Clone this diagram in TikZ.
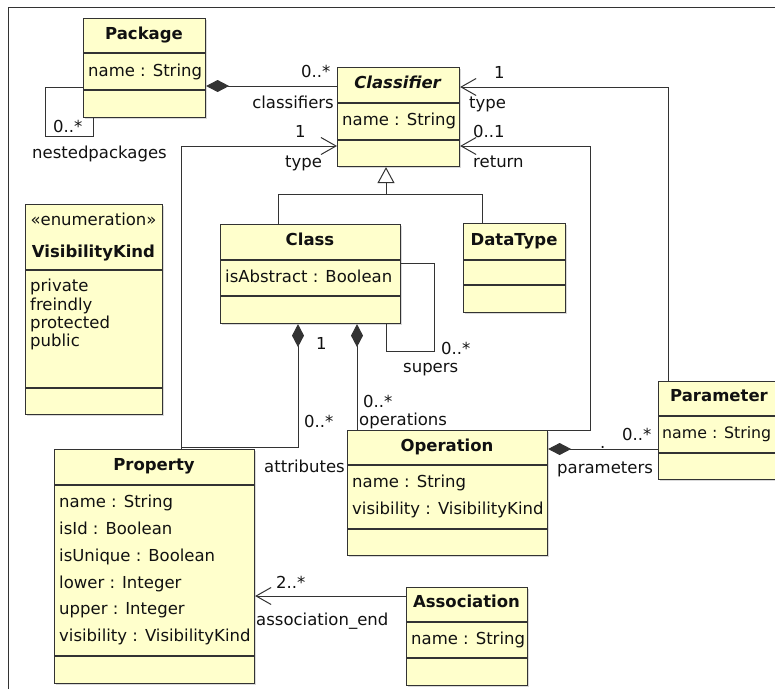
\documentclass[tikz,border=0pt]{standalone}
\usepackage{fontspec}
\setmainfont{DejaVu Sans}
\usetikzlibrary{arrows.meta,shadows}
\definecolor{boxfill}{HTML}{FFFFCC}
\definecolor{linec}{HTML}{333333}
\definecolor{txtc}{HTML}{111111}
\begin{document}
\begin{tikzpicture}[x=1pt,y=-1pt,
  umlbox/.style={draw=linec, fill=boxfill, line width=1.1pt, inner sep=0pt, anchor=north west,
     drop shadow={shadow xshift=1.5pt,shadow yshift=-1.5pt,opacity=0.3,fill=gray}},
  sep/.style={draw=linec, line width=1.1pt},
  ttl/.style={font=\fontsize{16.5}{20}\selectfont\bfseries, text=txtc, anchor=base, inner sep=0pt},
  attr/.style={font=\fontsize{16.5}{20}\selectfont, text=txtc, anchor=base west, inner sep=0pt},
  lbl/.style={attr},
  conn/.style={draw=linec, line width=1pt},
  comp/.style={conn, {Diamond[length=23pt,width=12pt]}-},
  nav/.style={conn, -{Straight Barb[length=15pt,width=17pt]}},
  gen/.style={conn, -{Triangle[open,length=16pt,width=17pt,fill=white]}},
]
\clip (0,0) rectangle (775,689);
\draw[linec, line width=1pt] (8,689) -- (8,7) -- (775,7);

% ---------- boxes ----------
\node[umlbox, minimum width=122pt, minimum height=99pt] (pkg) at (83,18) {};
\draw[sep] (pkg.west |- 0,53) -- (pkg.east |- 0,53);
\draw[sep] (pkg.west |- 0,90) -- (pkg.east |- 0,90);
\node[ttl] (pkgT) at (144,39) {Package};
\node[attr] (pkgA) at (88,76.5) {name : String};

\node[umlbox, minimum width=122pt, minimum height=99pt] (cfr) at (337,67) {};
\draw[sep] (cfr.west |- 0,103) -- (cfr.east |- 0,103);
\draw[sep] (cfr.west |- 0,140) -- (cfr.east |- 0,140);
\node[ttl] (cfrT) at (398,88.5) {\textit{Classifier}};
\node[attr] (cfrA) at (342,125) {name : String};

\node[umlbox, minimum width=180pt, minimum height=99pt] (cls) at (220,224) {};
\draw[sep] (cls.west |- 0,260) -- (cls.east |- 0,260);
\draw[sep] (cls.west |- 0,296) -- (cls.east |- 0,296);
\node[ttl] (clsT) at (310,245) {Class};
\node[attr] (clsA) at (225,282) {isAbstract : Boolean};

\node[umlbox, minimum width=102pt, minimum height=89pt] (dt) at (463,223) {};
\draw[sep] (dt.west |- 0,260) -- (dt.east |- 0,260);
\draw[sep] (dt.west |- 0,285) -- (dt.east |- 0,285);
\node[ttl] (dtT) at (514,245) {DataType};

\node[umlbox, minimum width=137pt, minimum height=210pt] (vk) at (25,204) {};
\draw[sep] (vk.west |- 0,270) -- (vk.east |- 0,270);
\draw[sep] (vk.west |- 0,388) -- (vk.east |- 0,388);
\node[anchor=base, inner sep=0pt, text=txtc, font=\fontsize{16.5}{20}\selectfont] (vkS) at (93.5,225) {«enumeration»};
\node[ttl] (vkT) at (93.5,257) {VisibilityKind};
\node[attr] (vk1) at (30,291.5) {private};
\node[attr] (vk2) at (30,310) {freindly};
\node[attr] (vk3) at (30,328) {protected};
\node[attr] (vk4) at (30,346.5) {public};

\node[umlbox, minimum width=200pt, minimum height=234pt] (prop) at (54,449) {};
\draw[sep] (prop.west |- 0,485) -- (prop.east |- 0,485);
\draw[sep] (prop.west |- 0,656) -- (prop.east |- 0,656);
\node[ttl] (propT) at (154,470) {Property};
\node[attr] (prop1) at (59,507) {name : String};
\node[attr] (prop2) at (59,534) {isId : Boolean};
\node[attr] (prop3) at (59,561) {isUnique : Boolean};
\node[attr] (prop4) at (59,588) {lower : Integer};
\node[attr] (prop5) at (59,614) {upper : Integer};
\node[attr] (prop6) at (59,641) {visibility : VisibilityKind};

\node[umlbox, minimum width=200pt, minimum height=125pt] (op) at (347,430) {};
\draw[sep] (op.west |- 0,465) -- (op.east |- 0,465);
\draw[sep] (op.west |- 0,529) -- (op.east |- 0,529);
\node[ttl] (opT) at (447,451) {Operation};
\node[attr] (op1) at (352,487) {name : String};
\node[attr] (op2) at (352,514) {visibility : VisibilityKind};

\node[umlbox, minimum width=122pt, minimum height=98pt] (par) at (658,381) {};
\draw[sep] (par.west |- 0,416) -- (par.east |- 0,416);
\draw[sep] (par.west |- 0,453) -- (par.east |- 0,453);
\node[ttl] (parT) at (719,401.5) {Parameter};
\node[attr, font=\fontsize{15.8}{19}\selectfont] (parA) at (662,438) {name : String};

\node[umlbox, minimum width=121pt, minimum height=98pt] (asc) at (406,587) {};
\draw[sep] (asc.west |- 0,622) -- (asc.east |- 0,622);
\draw[sep] (asc.west |- 0,658) -- (asc.east |- 0,658);
\node[ttl] (ascT) at (466.5,607.5) {Association};
\node[attr] (ascA) at (411,644) {name : String};

% ---------- connectors ----------
% Package -- classifiers
\draw[comp] (pkg.east |- 0,86) -- (cfr.west |- 0,86);
\node[lbl] (l1) at (301,77) {0..*};
\node[lbl, anchor=base east] (l2) at (334,108) {classifiers};
% Package self loop
\draw[conn] (pkg.west |- 0,87) -| (45,136) -| (93,0 |- pkg.south);
\node[lbl] (l3) at (53,132) {0..*};
\node[lbl] (l4) at (32,158) {nestedpackages};
% generalization
\draw[conn] (278,0 |- cls.north) |- (482,194) -- (482,0 |- dt.north);
\coordinate (gj) at (386,194);
\draw[gen] (gj) -- (386,0 |- cfr.south);
% Property type
\draw[nav] (181,0 |- prop.north) |- (cfr.west |- 0,146);
\node[lbl] (l5) at (295,137) {1};
\node[lbl] (l6) at (285,167) {type};
% Parameter type
\draw[nav] (668,0 |- par.north) |- (cfr.east |- 0,87);
\node[lbl] (l7) at (494,78) {1};
\node[lbl] (l8) at (469,108) {type};
% Operation return
\draw[nav] (op.north east) -| (590,146) -- (cfr.east |- 0,146);
\node[lbl] (l9) at (473,137) {0..1};
\node[lbl] (l10) at (473,167) {return};
% Class supers
\draw[conn] (cls.east |- 0,263) -| (434,351) -| (386,0 |- cls.south);
\node[lbl] (l11) at (441,354) {0..*};
\node[lbl] (l12) at (403,372) {supers};
% Class attributes
\draw[comp] (298,0 |- cls.south) |- (181,447);
\node[lbl] (l13) at (316,349) {1};
\node[lbl] (l14) at (304,427) {0..*};
\node[lbl] (l15) at (264,472) {attributes};
% Class operations
\draw[comp] (357,0 |- cls.south) -- (357,0 |- op.north);
\node[lbl] (l16) at (363,407) {0..*};
\node[lbl] (l17) at (359,425) {operations};
% Operation parameters
\draw[comp] (op.east |- 0,449) -- (par.west |- 0,449);
\node[lbl] (l18) at (622,440) {0..*};
\node[lbl] (l19) at (557,473) {parameters};
\node[lbl] (l20) at (600,448) {.};
% Association end
\draw[nav] (asc.west |- 0,596) -- (prop.east |- 0,596);
\node[lbl] (l21) at (276,588) {2..*};
\node[lbl] (l22) at (256,625) {association\_end};
\end{tikzpicture}
\end{document}
